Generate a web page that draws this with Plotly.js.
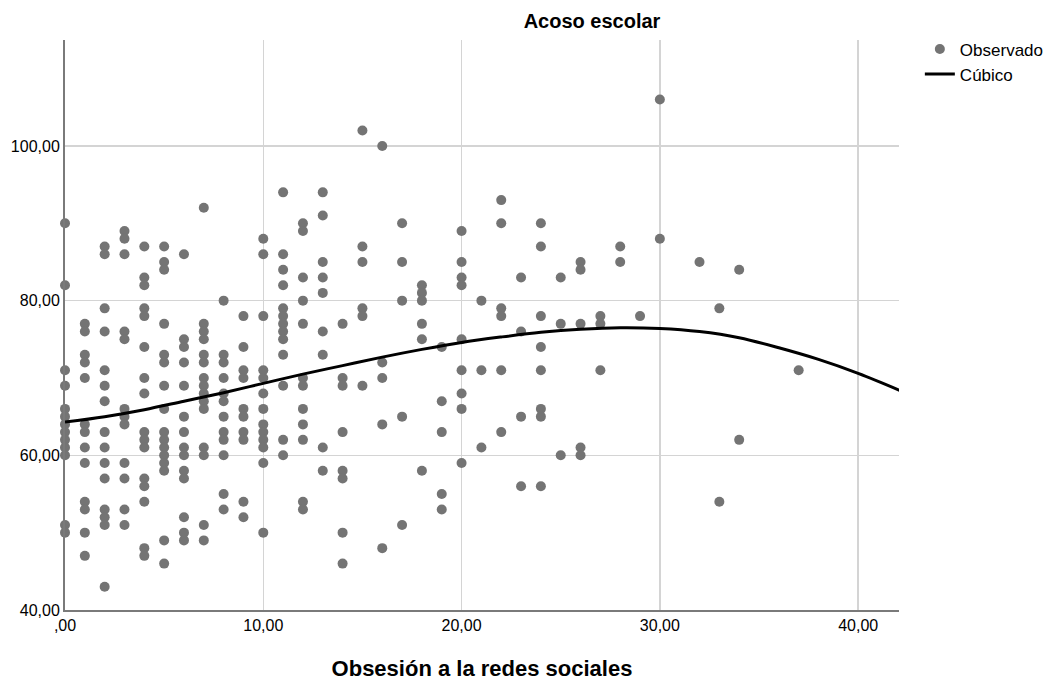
<!DOCTYPE html>
<html>
<head>
<meta charset="utf-8">
<script src="https://cdn.plot.ly/plotly-3.0.1.min.js"></script>
<style>html,body{margin:0;padding:0;background:#fff;}#chart{width:1049px;height:686px;}</style>
</head>
<body>
<div id="chart"></div>
<script>
// Observed points, grouped by x value (Obsesión a la redes sociales)
const obsX = [0,1,2,3,4,5,6,7,8,9,10,11,12,13,14,15,16,17,18,19,20,21,22,23,24,25,26,27,28,29,30,32,33,34,37];
const obsY = [
  [90,82,71,69,66,65,64,63,62,61,60,51,50],
  [77,76,73,72,70,64,63,61,59,54,53,50,47],
  [87,86,79,76,71,69,67,63,61,59,57,53,52,51,43],
  [89,88,86,76,75,66,65,64,59,57,53,51],
  [87,83,82,79,78,74,70,68,63,62,61,57,56,54,48,47],
  [87,85,84,77,73,72,69,66,63,62,61,60,59,58,49,46],
  [86,75,74,72,69,65,63,61,60,58,57,52,50,49],
  [92,77,76,75,73,72,70,69,68,67,66,61,60,51,49],
  [80,73,72,70,68,67,65,63,62,60,55,53],
  [78,74,71,70,66,65,63,62,54,52],
  [88,86,78,71,70,68,66,64,63,62,61,59,50],
  [94,86,84,82,79,78,77,76,75,73,69,62,60],
  [90,89,83,80,77,70,69,66,64,62,54,53],
  [94,91,85,83,81,76,73,61,58],
  [77,70,69,63,58,57,50,46],
  [102,87,85,79,78,69],
  [100,72,70,64,48],
  [90,85,80,65,51],
  [82,81,80,77,75,58],
  [74,67,63,55,53],
  [89,85,83,82,75,71,68,66,59],
  [80,71,61],
  [93,90,79,78,71,63],
  [83,76,65,56],
  [90,87,78,74,71,66,65,56],
  [83,77,60],
  [85,84,77,61,60],
  [78,77,71],
  [87,85],
  [78],
  [106,88],
  [85],
  [79,54],
  [84,62],
  [71]
];

// Cubic fit curve
const fitX = [0,2,4,6,8,10,12,14,16,18,20,22,24,26,28,30,32,34,36,38,40,42.1];
const fitY = [64.3,65.0,65.9,67.0,68.1,69.3,70.5,71.6,72.7,73.7,74.6,75.3,75.9,76.3,76.5,76.4,76.0,75.2,73.9,72.4,70.6,68.4];

// Tick labels
const xTickVals = [0,10,20,30,40];
const xTickText = [',00','10,00','20,00','30,00','40,00'];
const yTickVals = [40,60,80,100];
const yTickText = ['40,00','60,00','80,00','100,00'];

const px = [], py = [];
obsX.forEach((x, i) => obsY[i].forEach(y => { px.push(x); py.push(y); }));

const font = 'Liberation Sans, Arial, sans-serif';

const traces = [
  {
    x: px, y: py, type: 'scatter', mode: 'markers', name: 'Observado',
    marker: {color: '#747474', size: 10, line: {width: 0}},
    cliponaxis: false
  },
  {
    x: fitX, y: fitY, type: 'scatter', mode: 'lines', name: 'Cúbico',
    line: {color: '#000000', width: 3, shape: 'spline', smoothing: 1}
  }
];

const layout = {
  width: 1049, height: 686,
  margin: {l: 65, r: 150, t: 40, b: 76, autoexpand: false},
  paper_bgcolor: '#ffffff', plot_bgcolor: '#ffffff',
  font: {family: font, size: 16, color: '#000'},
  title: {text: 'Acoso escolar', x: 592/1049, xanchor: 'center', y: 0.97, yanchor: 'middle',
          font: {family: font, size: 20, color: '#000', weight: 'bold'}},
  xaxis: {
    range: [0, 42.06], tickvals: xTickVals, ticktext: xTickText,
    showgrid: true, gridcolor: '#d4d4d4', gridwidth: 1.5,
    showline: true, linecolor: '#7a7a7a', linewidth: 2, zeroline: false,
    ticks: '', ticklen: 0, automargin: false,
    tickfont: {family: font, size: 16, color: '#000'},
    title: {text: 'Obsesión a la redes sociales', standoff: 27,
            font: {family: font, size: 22, color: '#000', weight: 'bold'}}
  },
  yaxis: {
    range: [40, 113.7], tickvals: yTickVals, ticktext: yTickText,
    showgrid: true, gridcolor: '#d4d4d4', gridwidth: 1.5,
    showline: true, linecolor: '#7a7a7a', linewidth: 2, zeroline: false,
    ticks: '', ticklen: 0, automargin: false,
    tickfont: {family: font, size: 16, color: '#000'}
  },
  showlegend: true,
  legend: {x: 1.025, xanchor: 'left', y: 1.015, yanchor: 'top',
           font: {family: font, size: 17, color: '#000'},
           bgcolor: 'rgba(0,0,0,0)', tracegroupgap: 0, itemwidth: 30}
};

Plotly.newPlot('chart', traces, layout, {displayModeBar: false, staticPlot: true});
</script>
</body>
</html>
